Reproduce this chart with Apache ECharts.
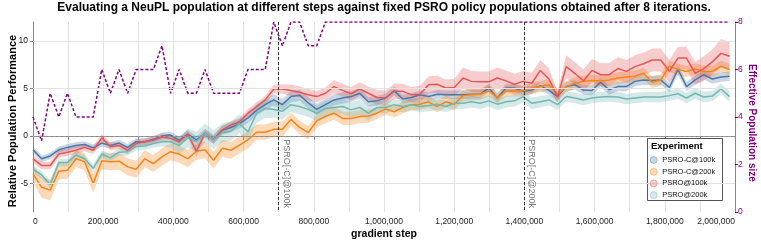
<!DOCTYPE html>
<html><head><meta charset="utf-8">
<script src="https://cdn.jsdelivr.net/npm/echarts@6/dist/echarts.min.js"></script>
<style>html,body{margin:0;padding:0;background:#fff}#c{width:761px;height:241px}</style>
</head><body><div id="c"></div>
<script>
// ---------- DATA ----------
const steps = [0,24500,49000,73500,98000,122500,147000,171500,196000,220500,245000,269500,294000,318500,343000,367500,392000,416500,441000,465500,490000,514500,539000,563500,588000,612500,637000,661500,686000,710500,735000,759500,784000,808500,833000,857500,882000,906500,931000,955500,980000,1004500,1029000,1053500,1078000,1102500,1127000,1151500,1176000,1200500,1225000,1249500,1274000,1298500,1323000,1347500,1372000,1396500,1421000,1445500,1470000,1494500,1519000,1543500,1568000,1592500,1617000,1641500,1666000,1690500,1715000,1739500,1764000,1788500,1813000,1837500,1862000,1886500,1911000,1935500,1960000,1984500];

const seriesNames = ['PSRO-C@100k','PSRO-C@200k','PSRO@100k','PSRO@200k'];

const psroC100k = [-1.45,-2.4,-2.1,-1.45,-1.2,-1.0,-0.9,-1.25,-0.75,-1.0,-0.75,-1.2,-0.6,-0.6,-0.35,0.0,0.1,-0.45,0.2,-0.4,0.3,-0.35,0.6,0.9,1.3,1.9,2.7,3.3,3.8,3.3,4.15,4.3,3.5,2.8,3.3,3.8,4.0,4.15,4.5,3.6,3.7,4.0,4.75,3.9,4.05,4.35,4.15,4.4,4.35,4.35,4.35,4.4,4.4,5.05,4.0,5.05,5.05,4.7,4.85,5.3,4.8,4.15,5.2,5.4,4.85,4.8,5.65,4.85,5.2,5.2,5.75,5.9,5.85,5.9,5.1,7.0,5.2,5.9,6.45,6.0,6.2,6.3];
const psroC200k = [-3.95,-5.4,-5.7,-3.7,-3.6,-2.4,-2.7,-5.0,-2.6,-2.7,-2.65,-3.25,-3.5,-2.4,-2.9,-2.2,-1.65,-1.9,-2.4,-1.6,-1.45,-2.55,-1.3,-1.5,-0.95,-0.4,0.4,0.4,0.7,0.7,1.75,0.9,0.35,1.6,2.05,2.4,1.85,1.85,2.05,2.1,2.4,2.85,2.55,3.0,3.3,3.35,3.6,3.1,3.6,3.35,4.25,4.35,4.4,4.75,4.05,4.7,4.75,4.75,5.05,5.2,5.4,4.35,5.2,5.55,5.75,5.85,5.8,5.9,6.1,6.2,6.3,6.6,5.65,5.9,7.35,7.0,6.8,7.05,6.8,6.8,7.35,7.0];
const psro100k = [-2.4,-3.1,-3.1,-1.9,-1.7,-1.5,-1.2,-1.5,-0.2,-1.1,-1.0,-1.5,-0.8,-0.6,-0.45,-0.1,-0.25,-0.6,0.2,-1.6,0.3,-0.4,0.65,1.15,1.5,2.4,3.1,3.8,4.95,4.95,4.8,4.6,4.35,4.15,4.5,5.2,4.8,4.45,4.95,4.5,4.05,4.0,4.7,4.7,4.35,4.4,5.4,5.45,5.05,5.1,6.1,5.75,5.7,5.7,6.1,5.8,5.45,5.75,5.55,6.9,6.0,4.1,7.3,6.6,5.8,6.9,6.45,6.45,7.1,6.8,7.3,7.6,8.0,8.0,6.8,8.2,8.2,6.6,7.1,7.8,8.7,8.4];
const psro200k = [-3.5,-4.1,-5.1,-2.8,-2.8,-2.0,-2.4,-3.4,-1.9,-2.3,-1.7,-1.65,-1.1,-1.05,-0.8,-0.6,-0.6,-1.0,-0.2,-0.55,0.3,-0.4,0.35,0.5,1.3,0.45,2.4,2.9,2.8,2.6,3.3,3.1,2.8,2.4,2.9,3.0,3.1,2.75,3.0,2.4,3.0,3.0,3.3,3.1,3.3,3.1,3.2,3.35,3.1,3.45,3.45,3.6,3.45,3.7,3.35,3.6,3.7,4.15,3.45,3.6,3.8,3.3,4.15,4.0,3.8,4.0,4.1,4.15,4.1,3.9,4.0,4.1,4.1,4.1,4.25,4.45,4.0,4.5,4.1,4.2,4.95,4.15];

// half-width of the shaded confidence band
const spreadC100k = [0.35,0.35,0.35,0.35,0.35,0.35,0.35,0.35,0.35,0.35,0.35,0.35,0.35,0.35,0.35,0.35,0.35,0.4,0.4,0.4,0.45,0.5,0.5,0.5,0.5,0.5,0.55,0.55,0.6,0.6,0.6,0.6,0.6,0.6,0.6,0.6,0.6,0.55,0.55,0.5,0.5,0.45,0.45,0.45,0.45,0.45,0.45,0.45,0.45,0.45,0.45,0.45,0.45,0.45,0.45,0.45,0.45,0.45,0.45,0.45,0.45,0.5,0.5,0.5,0.5,0.5,0.5,0.5,0.5,0.5,0.5,0.5,0.5,0.5,0.5,0.5,0.5,0.5,0.5,0.5,0.5,0.5];
const spreadC200k = [0.9,1.1,1.1,0.9,0.9,0.9,0.9,1.0,0.9,0.9,0.9,0.9,0.9,0.9,0.9,0.9,0.9,0.9,0.9,0.9,0.9,0.9,0.9,0.9,0.9,0.9,0.8,0.8,0.8,0.8,0.7,0.7,0.7,0.7,0.7,0.7,0.7,0.7,0.7,0.7,0.6,0.6,0.6,0.6,0.6,0.6,0.6,0.6,0.6,0.6,0.6,0.6,0.6,0.6,0.6,0.6,0.6,0.6,0.6,0.6,0.6,0.6,0.6,0.6,0.6,0.6,0.6,0.6,0.6,0.6,0.6,0.6,0.6,0.6,0.6,0.6,0.6,0.6,0.6,0.6,0.6,0.6];
const spread100k = [0.4,0.4,0.4,0.4,0.4,0.4,0.4,0.4,0.4,0.4,0.4,0.4,0.4,0.4,0.4,0.4,0.4,0.4,0.4,0.6,0.4,0.4,0.4,0.4,0.4,0.45,0.45,0.45,0.45,0.5,0.6,0.6,0.6,0.6,0.6,0.7,0.7,0.7,0.7,0.7,0.8,0.8,0.8,0.8,0.8,0.9,0.9,0.9,0.9,0.9,1.1,1.1,1.1,1.1,1.1,1.1,1.1,1.1,1.1,1.1,1.1,0.6,1.2,1.2,1.2,1.2,1.2,1.2,1.2,1.2,1.2,1.2,1.2,1.2,1.2,1.2,1.2,1.2,1.3,1.3,1.5,1.5];
const spread200k = [0.4,0.4,0.4,0.4,0.4,0.4,0.4,0.4,0.4,0.4,0.4,0.4,0.4,0.4,0.4,0.5,0.6,0.9,1.0,1.0,1.0,1.0,1.0,1.0,1.0,1.0,1.0,1.0,0.9,0.9,0.8,0.8,0.8,0.8,0.8,0.8,0.8,0.8,0.8,0.8,0.6,0.6,0.6,0.6,0.6,0.6,0.6,0.6,0.6,0.6,0.6,0.6,0.6,0.6,0.6,0.6,0.6,0.6,0.6,0.6,0.55,0.55,0.55,0.55,0.55,0.55,0.55,0.55,0.55,0.55,0.55,0.55,0.55,0.55,0.55,0.55,0.55,0.55,0.55,0.55,0.55,0.55];

const effPopSize = [4,3,5,4,5,4,4,4,6,5,6,5,6,6,6,7,5,6,5,5,6,5,5,5,5,6,6,6,8,7,8,8,7,7,8,8,8,8,8,8,8,8,8,8,8,8,8,8,8,8,8,8,8,8,8,8,8,8,8,8,8,8,8,8,8,8,8,8,8,8,8,8,8,8,8,8,8,8,8,8,8,8];

const ruleSteps = [700000, 1400000];
const ruleLabels = ['PSRO[-C]@100k', 'PSRO[-C]@200k'];
const leftTicks = [-5, 0, 5, 10];

// ---------- CHART ----------
const colors = ['#4c78a8', '#f58518', '#e45756', '#72b7b2'];
const bandFill = ['rgba(76,120,168,0.3)', 'rgba(245,133,24,0.3)', 'rgba(228,87,86,0.3)', 'rgba(114,183,178,0.3)'];
const means = [psroC100k, psroC200k, psro100k, psro200k];
const spreads = [spreadC100k, spreadC200k, spread100k, spread200k];
const FONT = 'Liberation Sans, Arial, sans-serif';

function bandSeries(k) {
  const data = steps.map((x, i) => [x, means[k][i] - spreads[k][i], means[k][i] + spreads[k][i]]);
  return {
    type: 'custom', name: seriesNames[k], yAxisIndex: 0, z: 2, silent: true,
    data: data, encode: { x: 0, y: [1, 2] },
    renderItem: function (params, api) {
      if (params.dataIndex !== 0) return null;
      const up = [], lo = [];
      for (let i = 0; i < data.length; i++) {
        up.push(api.coord([data[i][0], data[i][2]]));
        lo.push(api.coord([data[i][0], data[i][1]]));
      }
      return { type: 'polygon', shape: { points: up.concat(lo.reverse()) }, style: { fill: bandFill[k] } };
    }
  };
}

const series = [];
// gridlines + zero rule holder (invisible line carrying mark lines)
series.push({
  type: 'line', yAxisIndex: 0, z: 1, silent: true, showSymbol: false, symbol: 'none',
  data: steps.map((x, i) => [x, psro200k[i]]), lineStyle: { opacity: 0 },
  markLine: {
    silent: true, symbol: ['none', 'none'], label: { show: false }, animation: false,
    data: leftTicks.filter(v => v !== 0).map(v => ({ yAxis: v, lineStyle: { color: '#e2e2e2', type: 'solid', width: 1 } }))
      .concat([{ yAxis: 0, lineStyle: { color: '#999', type: [3, 2], width: 1 } }])
  }
});
for (let k = 0; k < 4; k++) series.push(bandSeries(k));
for (let k = 0; k < 4; k++) {
  series.push({
    type: 'line', name: seriesNames[k] + ' mean', yAxisIndex: 0, z: 3, silent: true,
    showSymbol: false, symbol: 'none',
    data: steps.map((x, i) => [x, means[k][i]]),
    lineStyle: { color: colors[k], width: 1.5 }
  });
}
series.push({
  type: 'line', name: 'Effective Population size', yAxisIndex: 1, z: 4, silent: true,
  showSymbol: false, symbol: 'none',
  data: steps.map((x, i) => [x, effPopSize[i]]),
  lineStyle: { color: '#800080', width: 1.5, type: [3, 2] },
  markLine: {
    silent: true, symbol: ['none', 'none'], animation: false,
    lineStyle: { color: '#333', type: [3, 2], width: 1 },
    data: ruleSteps.map((s, j) => [
      { coord: [s, 8], label: { show: true, formatter: ruleLabels[j], position: 'insideEndTop', distance: [4, 3], color: '#777', fontSize: 9, fontFamily: FONT } },
      { coord: [s, 0] }
    ])
  }
});

const chart = echarts.init(document.getElementById('c'), null, { renderer: 'canvas' });
chart.setOption({
  animation: false,
  backgroundColor: '#fff',
  textStyle: { fontFamily: FONT },
  title: {
    text: 'Evaluating a NeuPL population at different steps against fixed PSRO policy populations obtained after 8 iterations.',
    left: 384, textAlign: 'center', top: 2, padding: 0,
    textStyle: { fontSize: 12, fontWeight: 'bold', color: '#000', fontFamily: FONT }
  },
  grid: { left: 33, right: 26, top: 22, bottom: 29, containLabel: false, outerBoundsMode: 'none' },
  xAxis: {
    type: 'value', min: 0, max: 2000000, interval: 100000,
    name: 'gradient step', nameLocation: 'middle', nameGap: 17, nameMoveOverlap: false,
    nameTextStyle: { fontSize: 10.5, fontWeight: 'bold', color: '#000', fontFamily: FONT },
    axisLine: { show: true, lineStyle: { color: '#888' } },
    axisTick: { show: true, length: 4, lineStyle: { color: '#888' } },
    axisLabel: {
      fontSize: 8.5, color: '#222', margin: 5, fontFamily: FONT,
      alignMinLabel: 'left', alignMaxLabel: 'right',
      formatter: v => (v % 200000 === 0 ? v.toLocaleString('en-US') : '')
    },
    splitLine: { show: true, lineStyle: { color: '#e2e2e2', width: 1 } }
  },
  yAxis: [{
    type: 'value', min: -8, max: 12, position: 'left',
    name: 'Relative Population Performance', nameLocation: 'middle', nameRotate: 90, nameGap: 15, nameMoveOverlap: false,
    nameTextStyle: { fontSize: 11, fontWeight: 'bold', color: '#000', fontFamily: FONT, padding: [0, 8, 0, 0] },
    axisLine: { show: true, lineStyle: { color: '#888' } },
    axisTick: { show: true, length: 3, lineStyle: { color: '#888' }, customValues: leftTicks },
    axisLabel: { fontSize: 8.5, color: '#222', margin: 5, customValues: leftTicks, fontFamily: FONT },
    splitLine: { show: false }
  }, {
    type: 'value', min: 0, max: 8, interval: 2, position: 'right',
    name: 'Effective Population size', nameLocation: 'middle', nameRotate: -90, nameGap: 12, nameMoveOverlap: false,
    nameTextStyle: { fontSize: 10, fontWeight: 'bold', color: '#800080', fontFamily: FONT, padding: [0, 0, 0, 12] },
    axisLine: { show: true, lineStyle: { color: '#888' } },
    axisTick: { show: true, length: 3, lineStyle: { color: '#800080' } },
    axisLabel: { fontSize: 8.5, color: '#800080', margin: 3, fontFamily: FONT },
    splitLine: { show: false }
  }],
  legend: {
    orient: 'vertical', left: 650, top: 156, padding: 0, z: 6,
    itemWidth: 7, itemHeight: 7, itemGap: 3.7, selectedMode: false,
    icon: 'circle',
    textStyle: { fontSize: 7.5, color: '#111', lineHeight: 7, fontFamily: FONT },
    data: seriesNames.map((n, k) => ({ name: n, itemStyle: { color: bandFill[k], borderColor: colors[k], borderWidth: 0.4, opacity: 1 } }))
  },
  graphic: [
    { type: 'rect', left: 647, top: 138, z: 5, shape: { width: 75, height: 62 }, style: { fill: '#fff', stroke: '#555', lineWidth: 1 } },
    { type: 'text', left: 651, top: 141, z: 6, style: { text: 'Experiment', font: 'bold 9.5px ' + FONT, fill: '#000' } }
  ],
  series: series
});
</script>
</body></html>
